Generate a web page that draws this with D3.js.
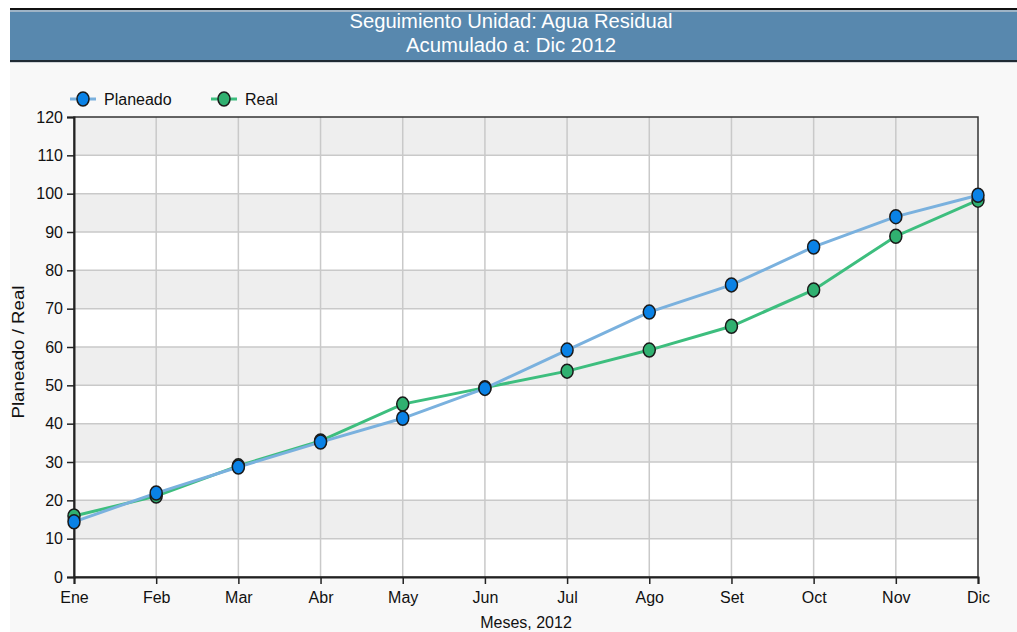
<!DOCTYPE html>
<html><head><meta charset="utf-8">
<script src="https://cdn.jsdelivr.net/npm/d3@7"></script>
<style>
html,body{margin:0;padding:0;background:#fff;}
svg{display:block;}
text{font-family:"Liberation Sans",Arial,sans-serif;}
</style></head>
<body>
<svg id="c" width="1017" height="632"></svg>
<script>
const months = ["Ene","Feb","Mar","Abr","May","Jun","Jul","Ago","Set","Oct","Nov","Dic"];
const planeado = [14.4, 21.9, 28.7, 35.2, 41.4, 49.2, 59.2, 69.1, 76.2, 86.1, 94.0, 99.6];
const real     = [15.9, 21.1, 29.0, 35.5, 45.1, 49.4, 53.7, 59.2, 65.4, 74.9, 88.9, 98.3];
const yTicks = [0,10,20,30,40,50,60,70,80,90,100,110,120];
const titleLines = ["Seguimiento Unidad: Agua Residual","Acumulado a: Dic 2012"];
const seriesNames = ["Planeado","Real"];

const svg = d3.select("#c");
const W = 1017, H = 632;
const L = 74, R = 978, T = 117, B = 577;

// page background
svg.append("rect").attr("x",10).attr("y",0).attr("width",W-10).attr("height",H).attr("fill","#f8f8f8");
svg.append("rect").attr("x",10).attr("y",0).attr("width",W-10).attr("height",8).attr("fill","#ffffff");
// header
svg.append("rect").attr("x",10).attr("y",8).attr("width",W-10).attr("height",2).attr("fill","#111");
svg.append("rect").attr("x",10).attr("y",10).attr("width",W-10).attr("height",2).attr("fill","#9fb4c6");
svg.append("rect").attr("x",10).attr("y",12).attr("width",W-10).attr("height",48).attr("fill","#5888ae");
svg.append("rect").attr("x",10).attr("y",60).attr("width",W-10).attr("height",2).attr("fill","#1f2a33");
svg.append("rect").attr("x",10).attr("y",62).attr("width",W-10).attr("height",1).attr("fill","#d0d4d8");

svg.selectAll("text.title").data(titleLines).enter().append("text")
  .attr("class","title")
  .attr("x",511).attr("y",(d,i)=>28+i*24)
  .attr("text-anchor","middle").attr("fill","#ffffff")
  .attr("font-size",20)
  .attr("textLength",(d,i)=>i===0?323:210)
  .attr("lengthAdjust","spacingAndGlyphs")
  .text(d=>d);

const x = d3.scalePoint().domain(months).range([L,R]);
const y = d3.scaleLinear().domain([0,120]).range([B,T]);

// plot bg
svg.append("rect").attr("x",L).attr("y",T).attr("width",R-L).attr("height",B-T).attr("fill","#ffffff");
// alternating bands
const bands = yTicks.slice(0,-1).filter(v=>(v/10)%2===1);
svg.selectAll("rect.band").data(bands).enter().append("rect")
  .attr("x",L).attr("width",R-L)
  .attr("y",d=>y(d+10)).attr("height",d=>y(d)-y(d+10))
  .attr("fill","#eeeeee");

// grid
svg.append("g").selectAll("line").data(yTicks.slice(1,-1)).enter().append("line")
  .attr("x1",L).attr("x2",R).attr("y1",d=>y(d)).attr("y2",d=>y(d))
  .attr("stroke","#c9c9c9").attr("stroke-width",1.5);
svg.append("g").selectAll("line").data(months.slice(1,-1)).enter().append("line")
  .attr("y1",T).attr("y2",B).attr("x1",d=>x(d)).attr("x2",d=>x(d))
  .attr("stroke","#c9c9c9").attr("stroke-width",1.5);

// frame
svg.append("rect").attr("x",L).attr("y",T).attr("width",R-L).attr("height",B-T)
  .attr("fill","none").attr("stroke","#333").attr("stroke-width",1.5);

// axes
const yAxis = svg.append("g").attr("transform",`translate(${L},0)`)
  .call(d3.axisLeft(y).tickValues(yTicks).tickSize(7).tickPadding(4).tickFormat(d3.format("d")));
const xAxis = svg.append("g").attr("transform",`translate(0,${B})`)
  .call(d3.axisBottom(x).tickSize(7).tickPadding(8));
[yAxis,xAxis].forEach(a=>{
  a.select(".domain").attr("stroke","#222").attr("stroke-width",2);
  a.selectAll(".tick line").attr("stroke","#222").attr("stroke-width",1.5);
  a.selectAll(".tick text").attr("fill","#111").attr("font-size",16)
   .attr("font-family","'Liberation Sans',Arial,sans-serif");
});

// axis titles
svg.append("text").attr("transform",`translate(24,352) rotate(-90)`)
  .attr("text-anchor","middle").attr("font-size",16).attr("fill","#111")
  .attr("textLength",133).attr("lengthAdjust","spacingAndGlyphs")
  .text("Planeado / Real");
svg.append("text").attr("x",(L+R)/2).attr("y",628)
  .attr("text-anchor","middle").attr("font-size",16).attr("fill","#111")
  .text("Meses, 2012");

// series
const series = [
  {name:"Real", values:real, line:"#3dbe7e", fill:"#30b070"},
  {name:"Planeado", values:planeado, line:"#7ab1de", fill:"#0a82e6"}
];
const lineGen = d3.line().x((d,i)=>x(months[i])).y(d=>y(d));
series.forEach(s=>{
  svg.append("path").datum(s.values).attr("d",lineGen)
    .attr("fill","none").attr("stroke",s.line).attr("stroke-width",3);
});
series.forEach(s=>{
  svg.append("g").selectAll("ellipse").data(s.values).enter().append("ellipse")
    .attr("cx",(d,i)=>x(months[i])).attr("cy",d=>y(d))
    .attr("rx",6).attr("ry",7)
    .attr("fill",s.fill).attr("stroke","#1a1a1a").attr("stroke-width",1.5);
});

// legend
const legend = [
  {name:"Planeado", line:"#7ab1de", fill:"#0a82e6", x:70},
  {name:"Real", line:"#3dbe7e", fill:"#30b070", x:211}
];
const lg = svg.append("g").selectAll("g").data(legend).enter().append("g")
  .attr("transform",d=>`translate(${d.x},99)`);
lg.append("line").attr("x1",0).attr("x2",26).attr("y1",0).attr("y2",0)
  .attr("stroke",d=>d.line).attr("stroke-width",3);
lg.append("ellipse").attr("cx",13).attr("cy",0).attr("rx",6).attr("ry",7)
  .attr("fill",d=>d.fill).attr("stroke","#1a1a1a").attr("stroke-width",1.5);
lg.append("text").attr("x",34).attr("y",6).attr("font-size",16).attr("fill","#111")
  .text(d=>d.name);
</script>
</body></html>
